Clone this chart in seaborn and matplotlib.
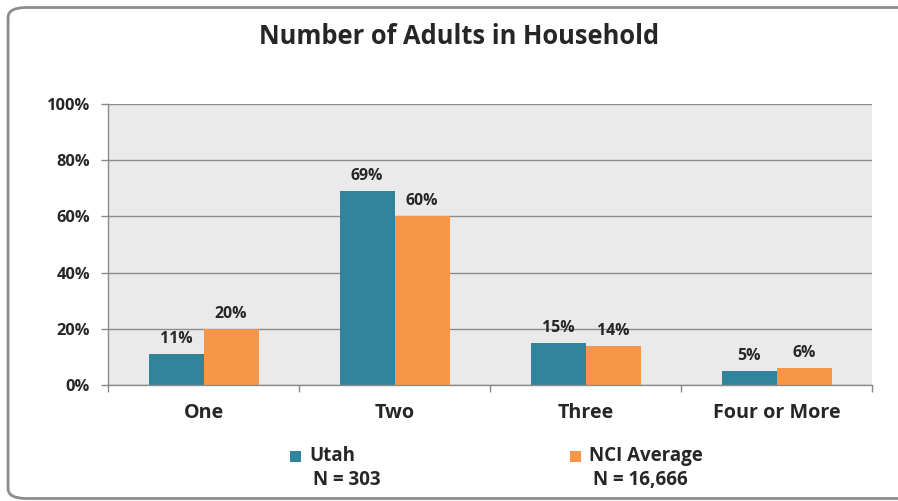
#!/usr/bin/env python3
"""Number of Adults in Household - Utah vs NCI Average."""

import matplotlib
matplotlib.use("Agg")
import matplotlib.pyplot as plt
from matplotlib.patches import FancyBboxPatch
import pandas as pd
import seaborn as sns

categories = ["One", "Two", "Three", "Four or More"]
utah_values = [11, 69, 15, 5]
nci_values = [20, 60, 14, 6]
series_names = ["Utah", "NCI Average"]
series_n = ["N = 303", "N = 16,666"]
y_ticks = [0, 20, 40, 60, 80, 100]

UTAH_COLOR = "#31849B"
NCI_COLOR = "#F79646"


def build_frame() -> pd.DataFrame:
    rows = []
    for cat, u, n in zip(categories, utah_values, nci_values):
        rows.append({"category": cat, "series": series_names[0], "value": u})
        rows.append({"category": cat, "series": series_names[1], "value": n})
    return pd.DataFrame(rows)


def main() -> None:
    sns.set_theme(style="white")
    plt.rcParams["font.family"] = ["Open Sans", "DejaVu Sans"]
    plt.rcParams["font.weight"] = "bold"

    df = build_frame()
    fig = plt.figure(figsize=(8.98, 5.01), dpi=100)
    ax = fig.add_axes([0.1203, 0.2315, 0.851, 0.561])

    sns.barplot(
        data=df, x="category", y="value", hue="series",
        order=categories, hue_order=series_names,
        palette=[UTAH_COLOR, NCI_COLOR], width=0.576,
        saturation=1, linewidth=0, legend=False, ax=ax,
    )

    ax.set_facecolor("#EAEAEA")
    ax.set_ylim(0, 100)
    ax.set_xlim(-0.5, len(categories) - 0.5)
    ax.set_yticks(y_ticks)
    ax.set_yticklabels([f"{t}%" for t in y_ticks], fontsize=11.8, fontweight="bold")
    ax.set_xticks(range(len(categories)))
    ax.set_xticklabels(categories, fontsize=14.2, fontweight="bold")
    ax.tick_params(axis="x", which="major", length=0, pad=13)
    ax.set_xticks([i + 0.5 for i in range(-1, len(categories))], minor=True)
    ax.tick_params(axis="x", which="minor", length=5, color="#888888", width=1, bottom=True)
    ax.tick_params(axis="y", length=5, color="#888888", width=1, left=True, pad=8)
    ax.set_xlabel("")
    ax.set_ylabel("")

    ax.yaxis.grid(True, color="#8C8C8C", linewidth=1)
    ax.set_axisbelow(True)
    for side in ["top", "right"]:
        ax.spines[side].set_visible(False)
    for side in ["left", "bottom"]:
        ax.spines[side].set_color("#8C8C8C")
        ax.spines[side].set_linewidth(1)

    for container in ax.containers:
        ax.bar_label(container, fmt="%d%%", padding=5, fontsize=11.4, fontweight="bold")

    fig.text(0.511, 0.928, "Number of Adults in Household", ha="center", va="center",
             fontsize=18.4, fontweight="bold")

    # legend with sample sizes under each series name
    legend_x = [0.323, 0.635]
    for x, name, n, color in zip(legend_x, series_names, series_n,
                                 [UTAH_COLOR, NCI_COLOR]):
        fig.patches.append(FancyBboxPatch(
            (x, 0.078), 0.0125, 0.022, boxstyle="square,pad=0",
            transform=fig.transFigure, facecolor=color, edgecolor="none"))
        fig.text(x + 0.021, 0.089, name, ha="left", va="center",
                 fontsize=13.5, fontweight="bold")
        fig.text(x + 0.025, 0.041, n, ha="left", va="center",
                 fontsize=13.5, fontweight="bold")

    # rounded chart frame
    fig.patches.append(FancyBboxPatch(
        (0.009, 0.005), 1.05, 0.98, boxstyle="round,pad=0,rounding_size=0.02",
        transform=fig.transFigure, facecolor="none", edgecolor="#8C8C8C",
        linewidth=2, clip_on=False))

    fig.savefig("out.png", dpi=100)


if __name__ == "__main__":
    main()
